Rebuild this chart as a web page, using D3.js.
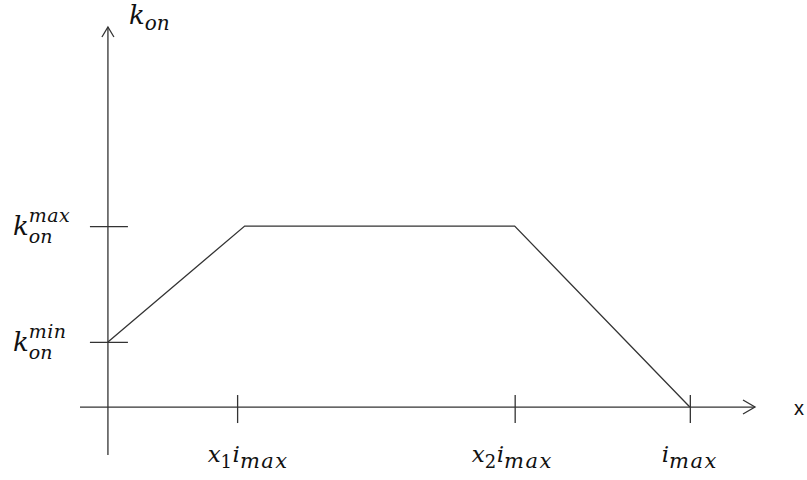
<!DOCTYPE html>
<html>
<head>
<meta charset="utf-8">
<script src="https://cdn.jsdelivr.net/npm/d3@7"></script>
<style>
  body { margin: 0; background: #fff; }
  svg { display: block; }
</style>
</head>
<body>
<div id="chart"></div>
<script>
// piecewise k_on profile, x in units of i_max, y in units of k_on^max
var profileX = [0, 0.235, 0.699, 1];
var profileY = [0.36, 1, 1, 0];

// tick positions on each axis
var xTickValues = [0.222, 0.699, 1];
// where each x label is centred (the first one sits a bit right of its tick)
var xLabelValues = [0.241, 0.695, 1];
var xTickLabels = [
  [{ t: "x", s: "base" }, { t: "1", s: "num" }, { t: "i", s: "base" }, { t: "max", s: "sub" }],
  [{ t: "x", s: "base" }, { t: "2", s: "num" }, { t: "i", s: "base" }, { t: "max", s: "sub" }],
  [{ t: "i", s: "base" }, { t: "max", s: "sub" }]
];
var yTickValues = [1, 0.36];
var yTickLabels = [
  { base: "k", sub: "on", sup: "max" },
  { base: "k", sub: "on", sup: "min" }
];

var width = 807,
  height = 480;

var x = d3.scaleLinear().domain([-0.048, 1.112]).range([80, 755]);
var y = d3.scaleLinear().domain([-0.265, 2.1]).range([455, 27]);

var ink = "#333";
var mathFont = "'DejaVu Serif', 'Liberation Serif', serif";
var baseSize = 22,
  smallSize = 19;

var svg = d3
  .select("#chart")
  .append("svg")
  .attr("width", width)
  .attr("height", height);

// X axis (ticks only, line drawn separately with an arrow)
var xAxis = svg
  .append("g")
  .attr("transform", "translate(0," + y(0) + ")")
  .call(d3.axisBottom(x).tickValues(xTickValues).tickSize(16).tickFormat(""));
xAxis.select(".domain").remove();
xAxis.selectAll(".tick line").attr("y1", -12).attr("stroke", ink).attr("stroke-width", 1.3);

// Y axis
var yAxis = svg
  .append("g")
  .attr("transform", "translate(" + x(0) + ",0)")
  .call(d3.axisLeft(y).tickValues(yTickValues).tickSize(18).tickFormat(""));
yAxis.select(".domain").remove();
yAxis.selectAll(".tick line").attr("x1", 20).attr("stroke", ink).attr("stroke-width", 1.3);

// axis lines
var xd = x.domain(),
  yd = y.domain();
svg
  .append("line")
  .attr("x1", x(xd[0]))
  .attr("x2", x(xd[1]))
  .attr("y1", y(0))
  .attr("y2", y(0))
  .attr("stroke", ink)
  .attr("stroke-width", 1.3);
svg
  .append("line")
  .attr("x1", x(0))
  .attr("x2", x(0))
  .attr("y1", y(yd[0]))
  .attr("y2", y(yd[1]))
  .attr("stroke", ink)
  .attr("stroke-width", 1.3);

// open arrow heads
svg
  .append("path")
  .attr("d", "M" + (x(xd[1]) - 12) + "," + (y(0) - 7) + "L" + x(xd[1]) + "," + y(0) + "L" + (x(xd[1]) - 12) + "," + (y(0) + 7))
  .attr("fill", "none")
  .attr("stroke", ink)
  .attr("stroke-width", 1.3);
svg
  .append("path")
  .attr("d", "M" + (x(0) - 6) + "," + (y(yd[1]) + 10) + "L" + x(0) + "," + y(yd[1]) + "L" + (x(0) + 6) + "," + (y(yd[1]) + 10))
  .attr("fill", "none")
  .attr("stroke", ink)
  .attr("stroke-width", 1.3);

// the profile line
var line = d3
  .line()
  .x(function (d) {
    return x(d[0]);
  })
  .y(function (d) {
    return y(d[1]);
  });
svg
  .append("path")
  .datum(d3.zip(profileX, profileY))
  .attr("d", line)
  .attr("fill", "none")
  .attr("stroke", ink)
  .attr("stroke-width", 1.3);

// x tick labels
xLabelValues.forEach(function (v, i) {
  var t = svg
    .append("text")
    .attr("y", y(0) + 55)
    .attr("font-family", mathFont)
    .attr("font-style", "italic")
    .attr("fill", "#111");
  var shifted = false;
  xTickLabels[i].forEach(function (p) {
    var ts = t.append("tspan").text(p.t);
    if (p.s == "base") {
      ts.attr("font-size", baseSize + 1).attr("dy", shifted ? -6 : 0);
      shifted = false;
    } else {
      ts.attr("font-size", p.s == "num" ? smallSize - 1 : smallSize + 2)
        .attr("dy", shifted ? 0 : 6)
        .attr("letter-spacing", p.s == "sub" ? 1.5 : 0.5);
      if (p.s == "num") ts.attr("font-style", "normal");
      shifted = true;
    }
  });
  var w = t.node().getComputedTextLength();
  t.attr("x", x(v) - w / 2);
});

// y tick labels: k with stacked sub/superscript
yTickValues.forEach(function (v, i) {
  var lab = yTickLabels[i];
  var by = y(v) + 9;
  var k = svg
    .append("text")
    .attr("x", 13)
    .attr("y", by)
    .attr("font-family", mathFont)
    .attr("font-style", "italic")
    .attr("font-size", baseSize + 4)
    .attr("fill", "#111")
    .text(lab.base);
  var kx = 13 + k.node().getComputedTextLength();
  svg
    .append("text")
    .attr("x", kx)
    .attr("y", by + 8)
    .attr("font-family", mathFont)
    .attr("font-style", "italic")
    .attr("font-size", smallSize)
    .attr("fill", "#111")
    .text(lab.sub);
  svg
    .append("text")
    .attr("x", kx)
    .attr("y", by - 13)
    .attr("font-family", mathFont)
    .attr("font-style", "italic")
    .attr("font-size", smallSize)
    .attr("letter-spacing", 0.5)
    .attr("fill", "#111")
    .text(lab.sup);
});

// axis titles
var kt = svg
  .append("text")
  .attr("x", 129)
  .attr("y", 24)
  .attr("font-family", mathFont)
  .attr("font-style", "italic")
  .attr("font-size", baseSize + 4)
  .attr("fill", "#111")
  .text("k");
svg
  .append("text")
  .attr("x", 129 + kt.node().getComputedTextLength())
  .attr("y", 30)
  .attr("font-family", mathFont)
  .attr("font-style", "italic")
  .attr("font-size", smallSize + 1)
  .attr("fill", "#111")
  .text("on");

svg
  .append("text")
  .attr("x", 794)
  .attr("y", 415)
  .attr("font-family", "'Liberation Sans', Arial, sans-serif")
  .attr("font-size", 20)
  .attr("fill", "#111")
  .text("x");
</script>
</body>
</html>
